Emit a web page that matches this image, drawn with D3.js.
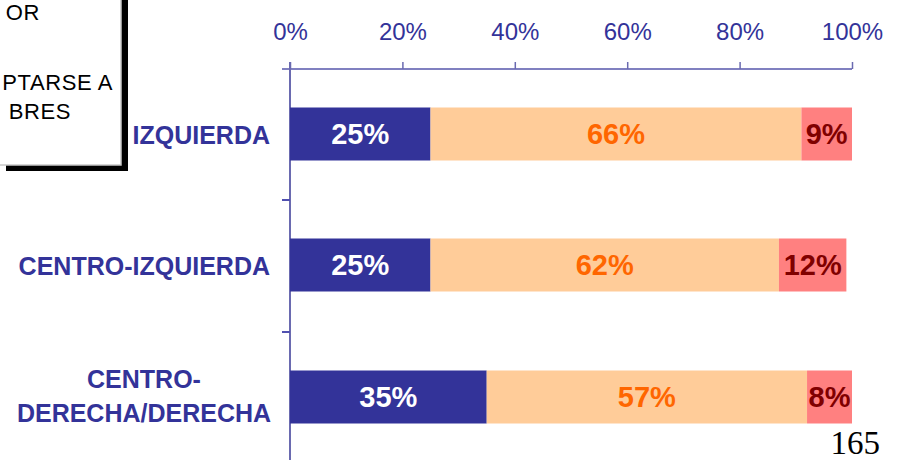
<!DOCTYPE html>
<html><head><meta charset="utf-8">
<script src="https://cdn.jsdelivr.net/npm/d3@7"></script>
<style>body{margin:0;background:#fff}svg{display:block}</style>
</head><body>
<script>
const categories = ["IZQUIERDA", "CENTRO-IZQUIERDA", "CENTRO-\nDERECHA/DERECHA"];
const seriesA = [25, 25, 35];
const seriesB = [66, 62, 57];
const seriesC = [9, 12, 8];
const tickValues = [0, 20, 40, 60, 80, 100];
const boxLines = ["OR", "PTARSE A", "BRES"];
const pageNumber = "165";

const W = 905, H = 460;
const svg = d3.select("body").append("svg").attr("width", W).attr("height", H);
const blue = "#333399";
const sans = "Liberation Sans, Arial, sans-serif";

// partial note box (cropped at top-left)
svg.append("rect").attr("x", 6).attr("y", -10).attr("width", 122).attr("height", 181).attr("fill", "#000");
svg.append("rect").attr("x", -2).attr("y", -10).attr("width", 123).attr("height", 175).attr("fill", "#fff").attr("stroke", "#c8c8c8").attr("stroke-width", 1.5);
const boxEnd = [40, 113, 71];
const boxY = [20, 90, 119];
boxLines.forEach((t, i) => {
  svg.append("text").attr("x", boxEnd[i]).attr("y", boxY[i]).attr("text-anchor", "end")
    .attr("font-family", sans).attr("font-size", 22)
    .attr("fill", "#000").attr("letter-spacing", 0.6).text(t);
});

const x = d3.scaleLinear().domain([0, 100]).range([290, 852]);

const xAxis = svg.append("g").attr("transform", "translate(0,69)")
  .call(d3.axisTop(x).tickValues(tickValues).tickFormat(d => d + "%").tickSize(7).tickPadding(22));
xAxis.select(".domain").attr("stroke", "#8080c0").attr("stroke-width", 2).attr("d", "M282,0H852");
xAxis.selectAll(".tick line").attr("stroke", "#6a6ab0").attr("stroke-width", 1.5);
xAxis.selectAll(".tick text").attr("fill", blue).attr("font-family", sans).attr("font-size", 24);

// left axis
const bandEdges = [200, 332];
svg.append("line").attr("x1", 290).attr("x2", 290).attr("y1", 62).attr("y2", 460).attr("stroke", "#6a6ab0").attr("stroke-width", 2);
bandEdges.forEach(e => svg.append("line").attr("x1", 282).attr("x2", 290).attr("y1", e).attr("y2", e).attr("stroke", "#5050b0").attr("stroke-width", 2));

const data = categories.map((c, i) => ({c, vals: [seriesA[i], seriesB[i], seriesC[i]]}));
const fills = ["#333399", "#ffcc99", "#ff8080"];
const textCols = ["#ffffff", "#ff6600", "#800000"];
const barH = 53;
const centers = [134, 265, 397];
data.forEach((d, i) => {
  const cy = centers[i];
  let acc = 0;
  d.vals.forEach((v, j) => {
    const x0 = x(acc), x1 = x(acc + v);
    svg.append("rect").attr("x", x0).attr("y", cy - barH / 2).attr("width", x1 - x0).attr("height", barH).attr("fill", fills[j]);
    svg.append("text").attr("x", (x0 + x1) / 2).attr("y", cy + 10).attr("text-anchor", "middle")
      .attr("font-family", sans).attr("font-weight", "bold").attr("font-size", 29)
      .attr("fill", textCols[j]).text(v + "%");
    acc += v;
  });
  const lines = d.c.split("\n");
  lines.forEach((ln, k) => {
    const two = lines.length > 1;
    svg.append("text").attr("x", two ? 144 : 270).attr("y", two ? 388 + k * 34 : cy + 10)
      .attr("text-anchor", two ? "middle" : "end")
      .attr("font-family", sans).attr("font-weight", "bold").attr("font-size", 25)
      .attr("fill", blue).text(ln);
  });
});

svg.append("text").attr("x", 880).attr("y", 454).attr("text-anchor", "end")
  .attr("font-family", "Liberation Serif, Times New Roman, serif").attr("font-size", 33).attr("fill", "#000").text(pageNumber);
</script>
</body></html>
